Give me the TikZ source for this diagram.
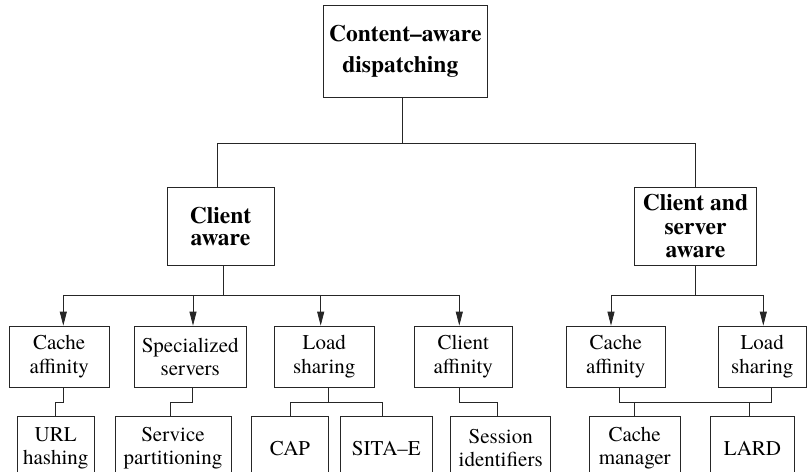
\documentclass[tikz,border=0pt]{standalone}
\usepackage{fontspec}
\setmainfont{texgyretermes}[Extension=.otf, UprightFont=*-regular, BoldFont=*-bold,
  ItalicFont=*-italic, BoldItalicFont=*-bolditalic]
\usetikzlibrary{arrows.meta}
\begin{document}
\begin{tikzpicture}[x=1bp,y=-1bp,
  box/.style={draw=black!85, line width=0.8bp, rectangle, inner sep=0pt, align=center,
    font=\fontsize{21bp}{23.3bp}\selectfont},
  headbox/.style={box, font=\fontsize{23.5bp}{22.5bp}\selectfont\bfseries},
  midbox/.style={box, minimum height=61.3bp},
  leafbox/.style={box, minimum height=63.3bp},
  link/.style={draw=black!85, line width=0.8bp},
  arrowlink/.style={link, -{Triangle[length=14bp,width=7bp]}}]
\useasboundingbox (0,0) rectangle (807,472);

% root and second level
\node[headbox, minimum width=164bp, minimum height=91.6bp] (root) at (405.3,51.5)
  {Content–aware\\[8bp]dispatching\hspace*{10bp}};
\node[headbox, minimum width=107bp, minimum height=77.3bp] (cla) at (220.5,226.3)
  {Client\\aware};
\node[headbox, minimum width=122.4bp, minimum height=77.7bp] (csa) at (695.5,226.2)
  {Client and\\[0.8bp]server\hspace*{16bp}\\[0.8bp]aware};

% third level
\node[midbox, minimum width=99.7bp]  (ca1) at (59.2,356.7)  {Cache\\affinity};
\node[midbox, minimum width=111.7bp] (ss)  at (190.2,356.7) {Specialized\\servers};
\node[midbox, minimum width=100bp]   (ls1) at (324.3,356.7) {Load\\sharing};
\node[midbox, minimum width=98.7bp]  (caf) at (463.3,356.7) {Client\\affinity};
\node[midbox, minimum width=99.7bp]  (ca2) at (615.8,356.7) {Cache\\affinity};
\node[midbox, minimum width=87.7bp]  (ls2) at (762.2,356.7) {Load\\sharing};

% leaves
\node[leafbox, minimum width=76.7bp]  (url)  at (55.7,448.3)  {URL\\hashing};
\node[leafbox, minimum width=116bp]   (sp)   at (173,448.3)   {Service\\partitioning};
\node[leafbox, minimum width=76.6bp]  (cap)  at (290,448.3)   {CAP};
\node[leafbox, minimum width=92.7bp]  (sita) at (386.3,448.3) {SITA–E};
\node[leafbox, minimum width=100bp]   (si)   at (500.7,448.3) {Session\\identifiers};
\node[leafbox, minimum width=90.7bp]  (cm)   at (634.7,448.3) {Cache\\manager};
\node[leafbox, minimum width=83.6bp]  (lard) at (752.5,448.3) {LARD};

% bus heights
\coordinate (busA) at (0,143.3);
\coordinate (busB) at (0,295);
\coordinate (busC) at (0,402.5);

% root -> second level
\draw[link] ([xshift=-3.3bp]root.south) -- ([xshift=-3.3bp]root.south |- busA);
\draw[link] ([xshift=-3.5bp]cla.north) |- ([xshift=0.2bp]csa.north |- busA)
  -- ([xshift=0.2bp]csa.north);

% client aware -> third level
\draw[link] ([xshift=2.8bp]cla.south) -- ([xshift=2.8bp]cla.south |- busB);
\draw[link] ([xshift=4.1bp]ca1.north |- busB) -- ([xshift=-4bp]caf.north |- busB);
\draw[arrowlink] ([xshift=4.1bp]ca1.north |- busB) -- ([xshift=4.1bp]ca1.north);
\draw[arrowlink] ([xshift=2.8bp]ss.north |- busB) -- ([xshift=2.8bp]ss.north);
\draw[arrowlink] ([xshift=-3.6bp]ls1.north |- busB) -- ([xshift=-3.6bp]ls1.north);
\draw[arrowlink] ([xshift=-4bp]caf.north |- busB) -- ([xshift=-4bp]caf.north);

% client and server aware -> third level
\draw[link] ([xshift=-0.5bp]csa.south) -- ([xshift=-0.5bp]csa.south |- busB);
\draw[link] ([xshift=-4.8bp]ca2.north |- busB) -- ([xshift=1.1bp]ls2.north |- busB);
\draw[arrowlink] ([xshift=-4.8bp]ca2.north |- busB) -- ([xshift=-4.8bp]ca2.north);
\draw[arrowlink] ([xshift=1.1bp]ls2.north |- busB) -- ([xshift=1.1bp]ls2.north);

% third level -> leaves
\draw[link] ([xshift=4.1bp]ca1.south) |- (url.north |- busC) -- (url.north);
\draw[link] ([xshift=2.5bp]ss.south) |- ([xshift=-3bp]sp.north |- busC) -- ([xshift=-3bp]sp.north);
\draw[link] ([xshift=4bp]ls1.south) -- ([xshift=4bp]ls1.south |- busC);
\draw[link] (cap.north) |- ([xshift=-3.6bp]sita.north |- busC) -- ([xshift=-3.6bp]sita.north);
\draw[link] ([xshift=-4bp]caf.south) |- ([xshift=-3bp]si.north |- busC) -- ([xshift=-3bp]si.north);
\draw[link] ([xshift=3.5bp]ca2.south) |- ([xshift=9.5bp]ls2.south |- busC) -- ([xshift=9.5bp]ls2.south);
\draw[link] (cm.north) -- (cm.north |- busC);
\draw[link] ([xshift=-3.2bp]lard.north) -- ([xshift=-3.2bp]lard.north |- busC);
\end{tikzpicture}
\end{document}
